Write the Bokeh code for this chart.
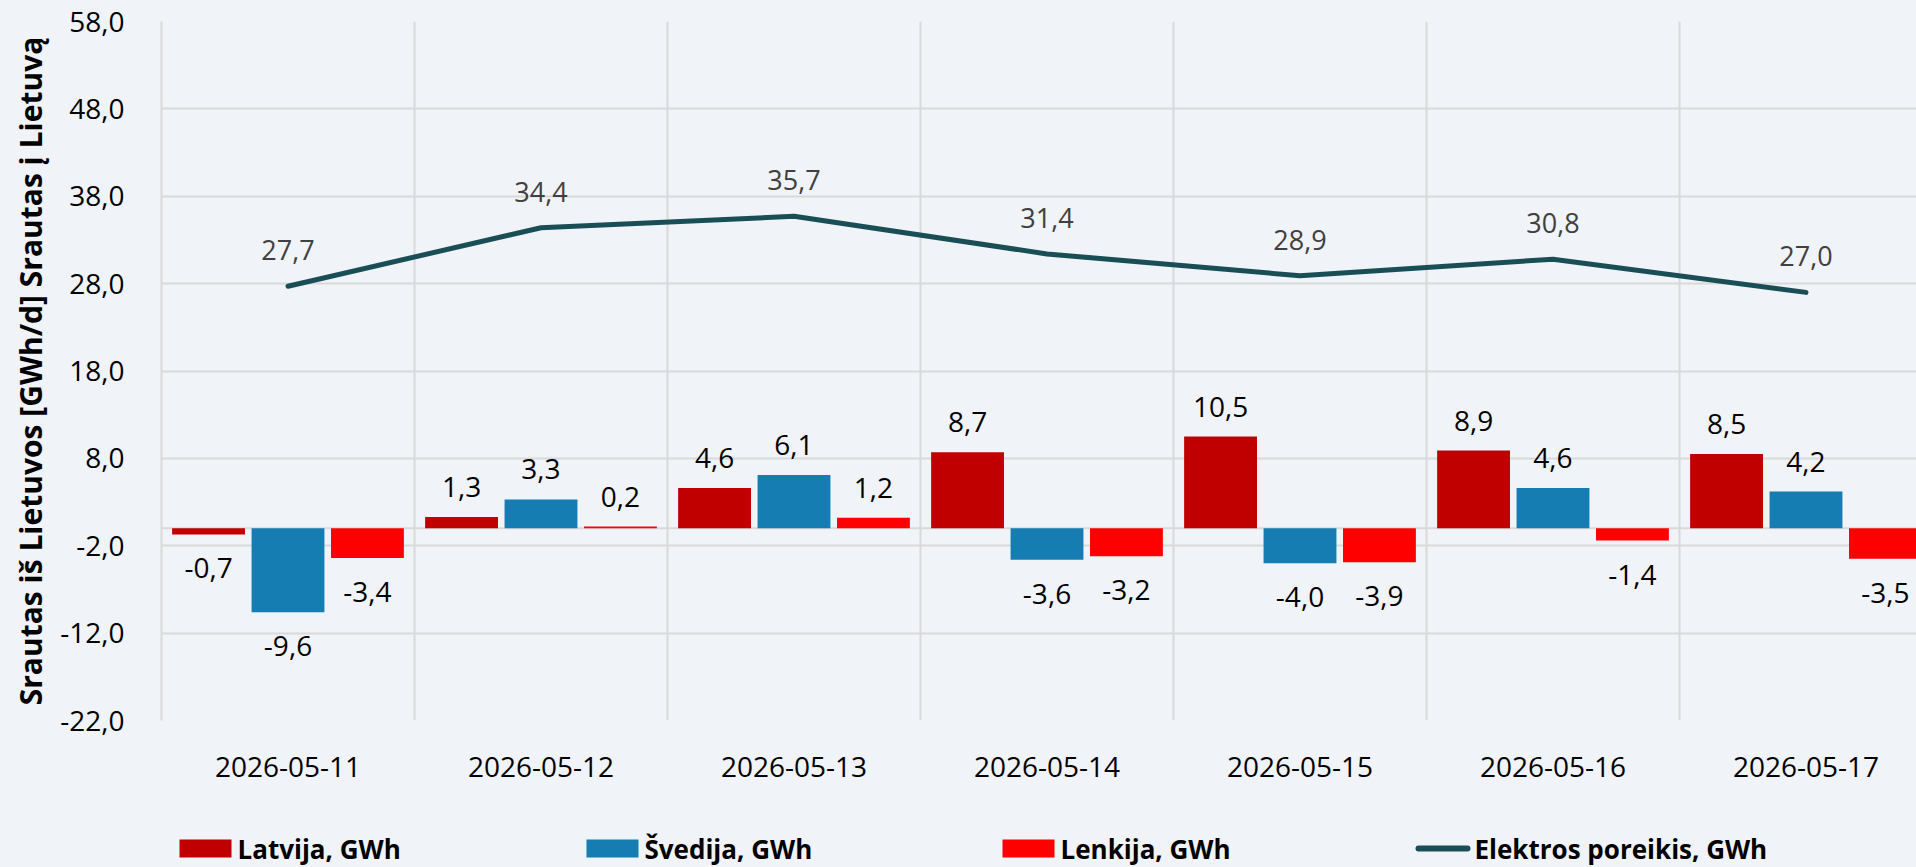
from bokeh.plotting import figure
from bokeh.layouts import column
from bokeh.models import (ColumnDataSource, Range1d, FixedTicker, CustomJSTickFormatter,
                          LabelSet, Span)
from bokeh.core.properties import value
from bokeh.embed import file_html
from bokeh.resources import INLINE

# ---- data ----
dates = ["2026-05-11", "2026-05-12", "2026-05-13", "2026-05-14",
         "2026-05-15", "2026-05-16", "2026-05-17"]
latvija = [-0.7, 1.3, 4.6, 8.7, 10.5, 8.9, 8.5]
svedija = [-9.6, 3.3, 6.1, -3.6, -4.0, 4.6, 4.2]
lenkija = [-3.4, 0.2, 1.2, -3.2, -3.9, -1.4, -3.5]
poreikis = [27.7, 34.4, 35.7, 31.4, 28.9, 30.8, 27.0]
y_ticks = [-22, -12, -2, 8, 18, 28, 38, 48, 58]

series_names = ["Latvija, GWh", "Švedija, GWh", "Lenkija, GWh"]
line_name = "Elektros poreikis, GWh"

# ---- styling ----
BG = "#F0F3F7"
GRID = "#D9D9D9"
C_LV = "#C00000"
C_SE = "#157DB1"
C_PL = "#FF0000"
C_LINE = "#1A4E56"
FONT = "Open Sans"

W = 1916
MAIN_H = 788
LEG_H = 867 - MAIN_H
FRAME_L = 161
CAT_PX = 253.0
x_end = (W - FRAME_L) / CAT_PX

p = figure(width=W, height=MAIN_H, output_backend="svg", toolbar_location=None,
           x_range=Range1d(0, x_end), y_range=Range1d(-22, 58),
           min_border_left=FRAME_L, min_border_right=0, min_border_top=21,
           min_border_bottom=MAIN_H - 720)
p.background_fill_color = BG
p.border_fill_color = BG
p.outline_line_color = None

centers = [i + 0.5 for i in range(len(dates))]
off = 0.314
bw = 0.288

def fmt(v):
    return f"{v:.1f}".replace(".", ",")

colors = [C_LV, C_SE, C_PL]
for vals, col, dx in ((latvija, C_LV, -off), (svedija, C_SE, 0.0), (lenkija, C_PL, off)):
    xs = [c + dx for c in centers]
    src = ColumnDataSource(dict(x=xs, top=vals,
                                txt=[fmt(v) for v in vals],
                                yoff=[30 if v >= 0 else -34 for v in vals]))
    p.vbar(x="x", top="top", bottom=0, width=bw, source=src,
           fill_color=col, line_color=None)
    p.add_layout(LabelSet(x="x", y="top", text="txt", source=src, y_offset="yoff",
                          text_align="center", text_baseline="middle",
                          text_font=value(FONT), text_font_size=value("28px"),
                          text_color="#000000"))

lsrc = ColumnDataSource(dict(x=centers, y=poreikis, txt=[fmt(v) for v in poreikis]))
p.line(x="x", y="y", source=lsrc, line_color=C_LINE, line_width=5,
       line_cap="round", line_join="round")
p.add_layout(LabelSet(x="x", y="y", text="txt", source=lsrc, y_offset=36,
                      text_align="center", text_baseline="middle",
                      text_font=value(FONT), text_font_size=value("27px"),
                      text_color="#404040"))

p.add_layout(Span(location=0, dimension="width", line_color=GRID, line_width=2,
                  level="underlay"))

# grids
p.xgrid.ticker = FixedTicker(ticks=list(range(len(dates) + 1)))
p.xgrid.grid_line_color = GRID
p.xgrid.grid_line_width = 2
p.ygrid.grid_line_color = GRID
p.ygrid.grid_line_width = 2

# y axis
p.yaxis.ticker = FixedTicker(ticks=y_ticks)
p.yaxis.formatter = CustomJSTickFormatter(code="return tick.toFixed(1).replace('.', ',');")
p.yaxis.axis_line_color = GRID
p.yaxis.axis_line_width = 2
p.yaxis.major_tick_line_color = None
p.yaxis.minor_tick_line_color = None
p.yaxis.major_label_standoff = 31
p.yaxis.major_label_text_font = FONT
p.yaxis.major_label_text_font_size = "28px"
p.yaxis.major_label_text_color = "#000000"
p.yaxis.axis_label = "Srautas iš Lietuvos [GWh/d] Srautas į Lietuvą"
p.yaxis.axis_label_text_font = FONT
p.yaxis.axis_label_text_font_size = "30px"
p.yaxis.axis_label_text_font_style = "bold"
p.yaxis.axis_label_text_color = "#000000"
p.yaxis.axis_label_standoff = 6

# x axis
p.xaxis.ticker = FixedTicker(ticks=centers)
p.xaxis.formatter = CustomJSTickFormatter(args=dict(labels=dates),
                                          code="return labels[Math.floor(tick)];")
p.xaxis.axis_line_color = None
p.xaxis.major_tick_line_color = None
p.xaxis.minor_tick_line_color = None
p.xaxis.major_label_standoff = 30
p.xaxis.major_label_text_font = FONT
p.xaxis.major_label_text_font_size = "28px"
p.xaxis.major_label_text_color = "#000000"

# ---- legend strip: a pixel-scaled figure below the chart ----
q = figure(width=W, height=LEG_H, output_backend="svg", toolbar_location=None,
           x_axis_type=None, y_axis_type=None,
           x_range=Range1d(FRAME_L, W), y_range=Range1d(LEG_H, 0),
           min_border=0, min_border_left=FRAME_L)
q.background_fill_color = BG
q.border_fill_color = BG
q.outline_line_color = None
q.grid.visible = False

leg_x = [179, 586, 1002, 1415]     # left edge of each legend key (page px)
key_w, key_h, key_gap = 52, 18, 6
line_w = 55
leg_cy = 848 - MAIN_H              # vertical centre of legend row
for lx, col in zip(leg_x[:3], colors):
    q.quad(left=lx, right=lx + key_w, top=leg_cy - key_h / 2, bottom=leg_cy + key_h / 2,
           fill_color=col, line_color=None)
q.line(x=[leg_x[3] + 3, leg_x[3] + line_w - 3], y=[leg_cy, leg_cy], line_color=C_LINE,
       line_width=6, line_cap="round")
label_x = [leg_x[0] + key_w + key_gap, leg_x[1] + key_w + key_gap,
           leg_x[2] + key_w + key_gap, leg_x[3] + line_w + 4]
q.text(x=label_x, y=[leg_cy] * 4, text=series_names + [line_name],
       text_font=value(FONT), text_font_size=value("26px"), text_font_style="bold",
       text_color="#000000", text_baseline="middle", text_align="left")

layout = column(p, q, spacing=0)

html = file_html(layout, INLINE)
style = "<style>html,body{margin:0 !important;padding:0 !important;background:%s;overflow:hidden;}</style>" % BG
html = html.replace("</head>", style + "</head>", 1)
open("out.html", "w").write(html)
